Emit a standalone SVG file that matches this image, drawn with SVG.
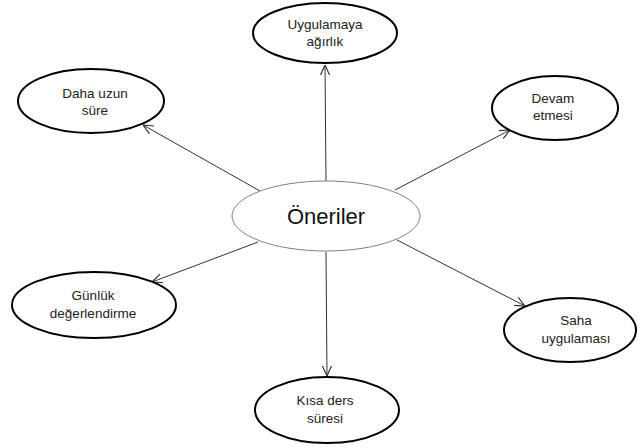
<svg xmlns="http://www.w3.org/2000/svg" width="638" height="448" viewBox="0 0 638 448">
  <defs>
    <marker id="arrow" viewBox="0 0 10 10" refX="10" refY="5" markerWidth="10" markerHeight="10" markerUnits="userSpaceOnUse" orient="auto">
      <path d="M0,0.5 L10,5 L0,9.5" fill="none" stroke="#333" stroke-width="1.2"/>
    </marker>
  </defs>
  <style>
    .leaf { fill: #ffffff; stroke: #000000; stroke-width: 2; }
    .hub { fill: #ffffff; stroke: #808080; stroke-width: 1; }
    .lbl { font-family: "Liberation Sans", Arial, sans-serif; font-size: 13.5px; fill: #222; text-anchor: middle; }
    .hubtxt { font-family: "Liberation Sans", Arial, sans-serif; font-size: 22px; fill: #111; text-anchor: middle; }
    .edge { stroke: #333; stroke-width: 1; fill: none; marker-end: url(#arrow); }
  </style>
  <rect width="638" height="448" fill="#ffffff"/>

  <g id="connectors">
    <line class="edge" x1="326" y1="181" x2="325" y2="65"/>
    <line class="edge" x1="260" y1="191" x2="143" y2="125"/>
    <line class="edge" x1="395" y1="190" x2="510" y2="130"/>
    <line class="edge" x1="258" y1="242" x2="152" y2="282"/>
    <line class="edge" x1="397" y1="240" x2="525" y2="306"/>
    <line class="edge" x1="326" y1="252" x2="327" y2="376"/>
  </g>

  <g id="oneriler">
    <ellipse class="hub" cx="326" cy="216" rx="94" ry="35"/>
    <text class="hubtxt" x="326" y="224">Öneriler</text>
  </g>

  <g id="uygulamaya-agirlik">
    <ellipse class="leaf" cx="325" cy="33" rx="72" ry="30"/>
    <text class="lbl" x="325" y="29">Uygulamaya</text>
    <text class="lbl" x="325" y="46">ağırlık</text>
  </g>

  <g id="daha-uzun-sure">
    <ellipse class="leaf" cx="91" cy="101" rx="73" ry="32"/>
    <text class="lbl" x="95" y="98">Daha uzun</text>
    <text class="lbl" x="95" y="115">süre</text>
  </g>

  <g id="devam-etmesi">
    <ellipse class="leaf" cx="555" cy="108" rx="63" ry="32"/>
    <text class="lbl" x="553" y="103">Devam</text>
    <text class="lbl" x="553" y="120">etmesi</text>
  </g>

  <g id="gunluk-degerlendirme">
    <ellipse class="leaf" cx="94" cy="305" rx="82" ry="33"/>
    <text class="lbl" x="93" y="300">Günlük</text>
    <text class="lbl" x="93" y="318">değerlendirme</text>
  </g>

  <g id="saha-uygulamasi">
    <ellipse class="leaf" cx="570" cy="330" rx="66" ry="32"/>
    <text class="lbl" x="576" y="325">Saha</text>
    <text class="lbl" x="576" y="343">uygulaması</text>
  </g>

  <g id="kisa-ders-suresi">
    <ellipse class="leaf" cx="327" cy="410" rx="72" ry="33"/>
    <text class="lbl" x="325" y="405">Kısa ders</text>
    <text class="lbl" x="325" y="423">süresi</text>
  </g>
</svg>
